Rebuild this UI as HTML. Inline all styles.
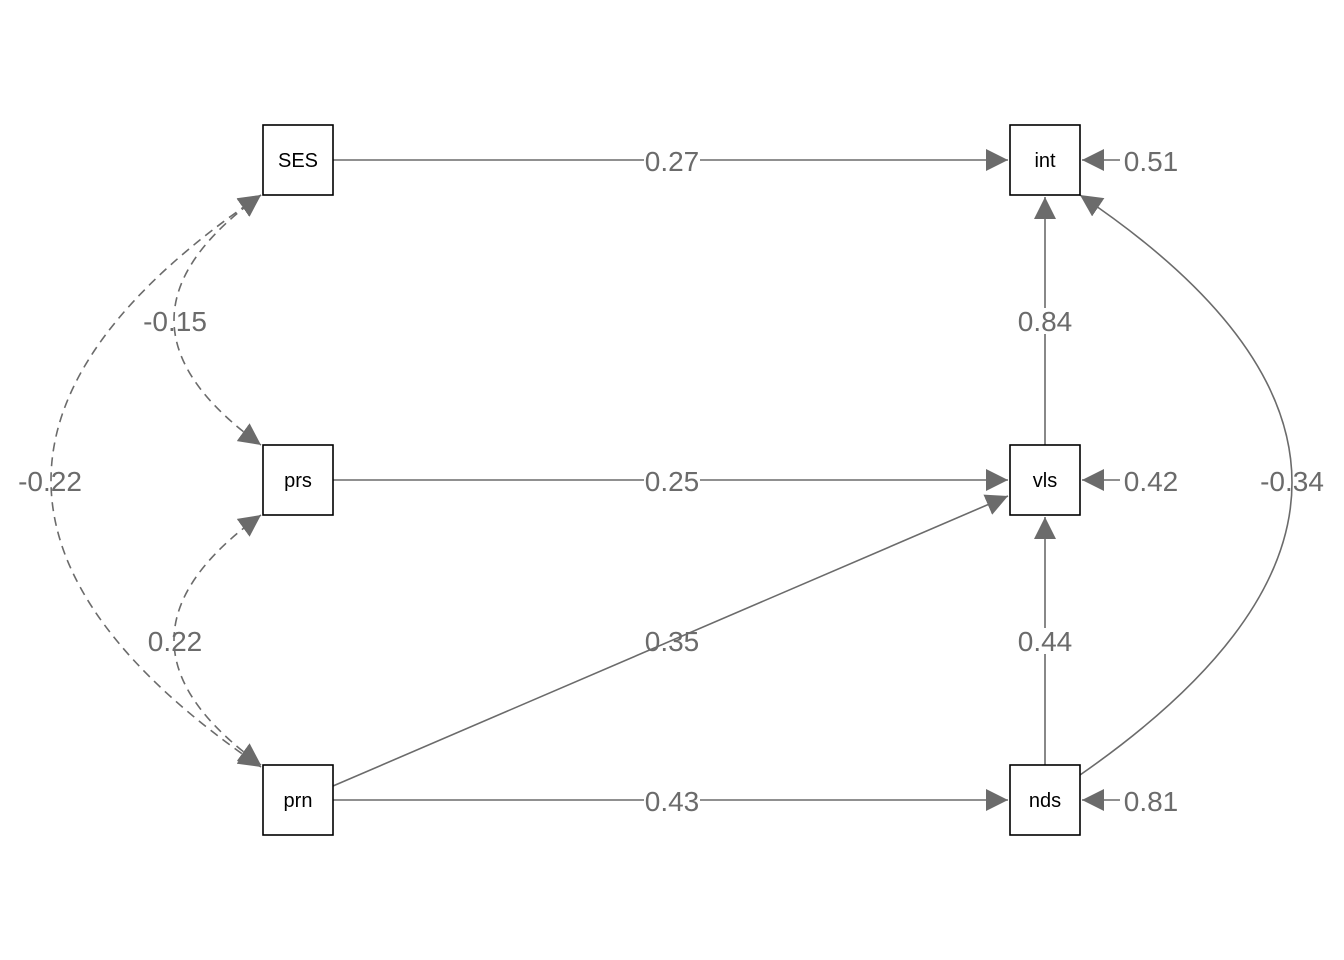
<!DOCTYPE html>
<html><head><style>body{margin:0;background:#fff}svg{display:block}</style></head><body>
<svg width="1344" height="960" xmlns="http://www.w3.org/2000/svg" font-family="Liberation Sans, Arial, sans-serif">
<defs>
<marker id="a" viewBox="0 0 10 10" refX="10" refY="5" markerWidth="22" markerHeight="22" markerUnits="userSpaceOnUse" orient="auto-start-reverse"><path d="M0,0 L10,5 L0,10 z" fill="#6b6b6b"/></marker>
</defs>
<g stroke="#6b6b6b" stroke-width="1.6" fill="none">
<line x1="333" y1="160" x2="1008" y2="160" marker-end="url(#a)"/>
<line x1="333" y1="480" x2="1008" y2="480" marker-end="url(#a)"/>
<line x1="333" y1="800" x2="1008" y2="800" marker-end="url(#a)"/>
<line x1="333" y1="786" x2="1008" y2="496" marker-end="url(#a)"/>
<line x1="1045" y1="445" x2="1045" y2="197" marker-end="url(#a)"/>
<line x1="1045" y1="765" x2="1045" y2="517" marker-end="url(#a)"/>
<line x1="1120" y1="160" x2="1082" y2="160" marker-end="url(#a)"/>
<line x1="1120" y1="480" x2="1082" y2="480" marker-end="url(#a)"/>
<line x1="1120" y1="800" x2="1082" y2="800" marker-end="url(#a)"/>
<path d="M1080,775 Q1504,480 1080,195" marker-end="url(#a)"/>
<g stroke-dasharray="9,6">
<path d="M261,195 Q87,320 261,445" marker-start="url(#a)" marker-end="url(#a)"/>
<path d="M261,515 Q87,640 261,765" marker-start="url(#a)" marker-end="url(#a)"/>
<path d="M261,195 Q-159,480 261,767" marker-start="url(#a)" marker-end="url(#a)"/>
</g>
</g>
<g fill="#fff" stroke="#000" stroke-width="1.6">
<rect x="263" y="125" width="70" height="70"/><rect x="1010" y="125" width="70" height="70"/>
<rect x="263" y="445" width="70" height="70"/><rect x="1010" y="445" width="70" height="70"/>
<rect x="263" y="765" width="70" height="70"/><rect x="1010" y="765" width="70" height="70"/>
</g>
<g font-size="20" text-anchor="middle" fill="#000">
<text x="298" y="167">SES</text><text x="1045" y="167">int</text>
<text x="298" y="487">prs</text><text x="1045" y="487">vls</text>
<text x="298" y="807">prn</text><text x="1045" y="807">nds</text>
</g>
<g fill="#fff">
<rect x="644" y="148" width="56" height="24"/><rect x="644" y="468" width="56" height="24"/><rect x="644" y="788" width="56" height="24"/>
<rect x="1017" y="308" width="56" height="26"/><rect x="1017" y="628" width="56" height="26"/>
</g>
<g font-size="28" text-anchor="middle" fill="#6b6b6b">
<text x="672" y="171">0.27</text><text x="672" y="491">0.25</text><text x="672" y="811">0.43</text>
<text x="672" y="651">0.35</text><text x="1045" y="331">0.84</text><text x="1045" y="651">0.44</text>
<text x="1151" y="171">0.51</text><text x="1151" y="491">0.42</text><text x="1151" y="811">0.81</text>
<text x="1292" y="491">-0.34</text><text x="50" y="491">-0.22</text>
<text x="175" y="331">-0.15</text><text x="175" y="651">0.22</text>
</g>
</svg>
</body></html>
